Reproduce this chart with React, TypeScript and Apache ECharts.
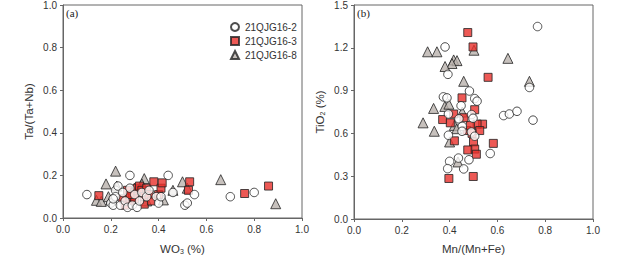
import React, { useEffect, useRef } from "react";
import * as echarts from "echarts";

const seriesNames = ["21QJG16-2", "21QJG16-3", "21QJG16-8"];
const xTicksA = [0, 0.2, 0.4, 0.6, 0.8, 1.0];
const yTicksA = [0, 0.2, 0.4, 0.6, 0.8, 1.0];
const yTicksB = [0, 0.3, 0.6, 0.9, 1.2, 1.5];

// Panel (a): WO3 (%) vs Ta/(Ta+Nb)
const a_circles: number[][] = [
  [0.10, 0.11], [0.20, 0.07], [0.21, 0.06], [0.22, 0.13], [0.23, 0.15], [0.22, 0.10],
  [0.24, 0.06], [0.26, 0.08], [0.27, 0.05], [0.28, 0.14], [0.28, 0.20], [0.29, 0.06],
  [0.30, 0.11], [0.31, 0.05], [0.32, 0.08], [0.33, 0.12], [0.35, 0.10], [0.39, 0.10],
  [0.40, 0.07], [0.41, 0.10], [0.44, 0.20], [0.46, 0.12], [0.51, 0.06], [0.52, 0.07],
  [0.55, 0.11], [0.70, 0.10], [0.80, 0.12], [0.36, 0.13], [0.25, 0.12], [0.21, 0.09],
];
const a_squares: number[][] = [
  [0.15, 0.105], [0.25, 0.09], [0.26, 0.06], [0.27, 0.13], [0.28, 0.08], [0.29, 0.10],
  [0.30, 0.12], [0.31, 0.14], [0.32, 0.15], [0.33, 0.13], [0.34, 0.065], [0.34, 0.10],
  [0.35, 0.14], [0.36, 0.11], [0.37, 0.08], [0.38, 0.17], [0.40, 0.11], [0.41, 0.14],
  [0.415, 0.165], [0.53, 0.17], [0.525, 0.13], [0.76, 0.115], [0.86, 0.15], [0.30, 0.09],
  [0.28, 0.11],
];
const a_triangles: number[][] = [
  [0.14, 0.083], [0.16, 0.078], [0.18, 0.16], [0.22, 0.22], [0.225, 0.15], [0.34, 0.185],
  [0.46, 0.13], [0.50, 0.17], [0.52, 0.14], [0.66, 0.18], [0.89, 0.067], [0.19, 0.10],
  [0.20, 0.085], [0.35, 0.08], [0.42, 0.085], [0.30, 0.14], [0.33, 0.16],
];

// Panel (b): Mn/(Mn+Fe) vs TiO2 (%)
const b_circles: number[][] = [
  [0.768, 1.349], [0.381, 1.206], [0.393, 1.014], [0.483, 0.897], [0.505, 0.844],
  [0.515, 0.826], [0.374, 0.856], [0.389, 0.849], [0.448, 0.794], [0.395, 0.736],
  [0.439, 0.702], [0.492, 0.732], [0.498, 0.706], [0.626, 0.725], [0.650, 0.736],
  [0.682, 0.755], [0.749, 0.693], [0.734, 0.922], [0.453, 0.649], [0.452, 0.615],
  [0.395, 0.587], [0.491, 0.610], [0.505, 0.580], [0.570, 0.459], [0.400, 0.404],
  [0.437, 0.427], [0.481, 0.415], [0.392, 0.353], [0.459, 0.351],
];
const b_squares: number[][] = [
  [0.476, 1.307], [0.498, 1.206], [0.561, 0.993], [0.452, 0.849], [0.505, 0.766],
  [0.371, 0.697], [0.403, 0.674], [0.417, 0.736], [0.420, 0.548], [0.538, 0.665],
  [0.515, 0.665], [0.526, 0.620], [0.473, 0.620], [0.500, 0.540], [0.505, 0.490],
  [0.476, 0.484], [0.512, 0.454], [0.583, 0.530], [0.397, 0.284], [0.499, 0.298],
  [0.487, 0.656], [0.494, 0.600], [0.460, 0.710],
];
const b_triangles: number[][] = [
  [0.308, 1.172], [0.347, 1.172], [0.502, 1.183], [0.417, 1.115], [0.431, 1.110],
  [0.410, 1.090], [0.381, 1.069], [0.644, 1.126], [0.459, 0.965], [0.734, 0.965],
  [0.333, 0.775], [0.289, 0.674], [0.380, 0.789], [0.397, 0.805], [0.336, 0.615],
  [0.400, 0.540], [0.435, 0.400], [0.453, 0.750], [0.420, 0.656], [0.430, 0.633],
];

const FONT = "'Liberation Sans', Arial, sans-serif";
const AXIS_COLOR = "#666";
const TEXT_COLOR = "#333";

const circleStyle = { color: "#ffffff", borderColor: "#222", borderWidth: 1 };
const squareStyle = { color: "#e8302a", borderColor: "#222", borderWidth: 1 };
const triStyle = { color: "#b9b2ad", borderColor: "#222", borderWidth: 1 };

function makeXAxis(gridIndex: number, nameText: string, rich: any) {
  return {
    gridIndex,
    type: "value",
    min: 0,
    max: 1,
    interval: 0.2,
    name: nameText,
    nameLocation: "middle",
    nameGap: 24,
    nameTextStyle: { fontFamily: FONT, fontSize: 11.5, color: TEXT_COLOR, rich },
    axisLine: { show: true, onZero: false, lineStyle: { color: AXIS_COLOR, width: 1 } },
    axisTick: { show: true, inside: false, length: 3, lineStyle: { color: AXIS_COLOR } },
    axisLabel: { fontFamily: FONT, fontSize: 10, color: TEXT_COLOR, margin: 6, formatter: (v: number) => v.toFixed(1) },
    splitLine: { show: false },
  };
}

function makeYAxis(gridIndex: number, nameText: string, max: number, interval: number, rich: any) {
  return {
    gridIndex,
    type: "value",
    min: 0,
    max,
    interval,
    name: nameText,
    nameLocation: "middle",
    nameGap: 28,
    nameRotate: 90,
    nameTextStyle: { fontFamily: FONT, fontSize: 11.5, color: TEXT_COLOR, rich },
    axisLine: { show: true, onZero: false, lineStyle: { color: AXIS_COLOR, width: 1 } },
    axisTick: { show: true, inside: false, length: 3, lineStyle: { color: AXIS_COLOR } },
    axisLabel: { fontFamily: FONT, fontSize: 10, color: TEXT_COLOR, margin: 6, formatter: (v: number) => v.toFixed(1) },
    splitLine: { show: false },
  };
}

export default function App() {
  const ref = useRef<HTMLDivElement>(null);
  useEffect(() => {
    if (!ref.current) return;
    const chart = echarts.init(ref.current, null, { renderer: "svg" });
    const subRich = {
      sub: { fontFamily: FONT, fontSize: 7, color: TEXT_COLOR, verticalAlign: "bottom", padding: [6, 0, 0, 0] },
    };
    const grids = [
      { left: 63, top: 4, width: 239, height: 218, show: true, borderColor: AXIS_COLOR, borderWidth: 1, backgroundColor: "transparent" },
      { left: 354, top: 4, width: 239, height: 218, show: true, borderColor: AXIS_COLOR, borderWidth: 1, backgroundColor: "transparent" },
    ];
    const mk = (name: string, xi: number, data: number[][], symbol: string, size: number, style: any) => ({
      name,
      type: "scatter",
      xAxisIndex: xi,
      yAxisIndex: xi,
      data,
      symbol,
      symbolSize: size,
      itemStyle: style,
      emphasis: { disabled: true },
    });
    chart.setOption({
      animation: false,
      backgroundColor: "#ffffff",
      grid: grids,
      xAxis: [
        makeXAxis(0, "WO{sub|3} (%)", subRich),
        makeXAxis(1, "Mn/(Mn+Fe)", subRich),
      ],
      yAxis: [
        makeYAxis(0, "Ta/(Ta+Nb)", 1.0, 0.2, subRich),
        makeYAxis(1, "TiO{sub|2} (%)", 1.5, 0.3, subRich),
      ],
      legend: {
        show: true,
        orient: "vertical",
        left: 225,
        top: 17,
        itemWidth: 8,
        itemHeight: 8,
        itemGap: 4,
        selectedMode: false,
        data: [
          { name: seriesNames[0], icon: "circle" },
          { name: seriesNames[1], icon: "rect" },
          { name: seriesNames[2], icon: "triangle" },
        ],
        textStyle: { fontFamily: FONT, fontSize: 10, color: TEXT_COLOR, padding: [0, 0, 0, 1] },
      },
      graphic: [
        { type: "text", left: 66, top: 7, style: { text: "(a)", font: "11px 'Liberation Serif', 'Times New Roman', serif", fill: "#222" } },
        { type: "text", left: 357, top: 7, style: { text: "(b)", font: "11px 'Liberation Serif', 'Times New Roman', serif", fill: "#222" } },
      ],
      series: [
        mk(seriesNames[2], 0, a_triangles, "triangle", 10, triStyle),
        mk(seriesNames[1], 0, a_squares, "rect", 8, squareStyle),
        mk(seriesNames[0], 0, a_circles, "circle", 8.5, circleStyle),
        mk(seriesNames[2], 1, b_triangles, "triangle", 10, triStyle),
        mk(seriesNames[1], 1, b_squares, "rect", 8, squareStyle),
        mk(seriesNames[0], 1, b_circles, "circle", 8.5, circleStyle),
      ],
    });
    return () => chart.dispose();
  }, []);
  return <div ref={ref} style={{ width: 622, height: 260, position: "absolute", left: 0, top: 0 }} />;
}
